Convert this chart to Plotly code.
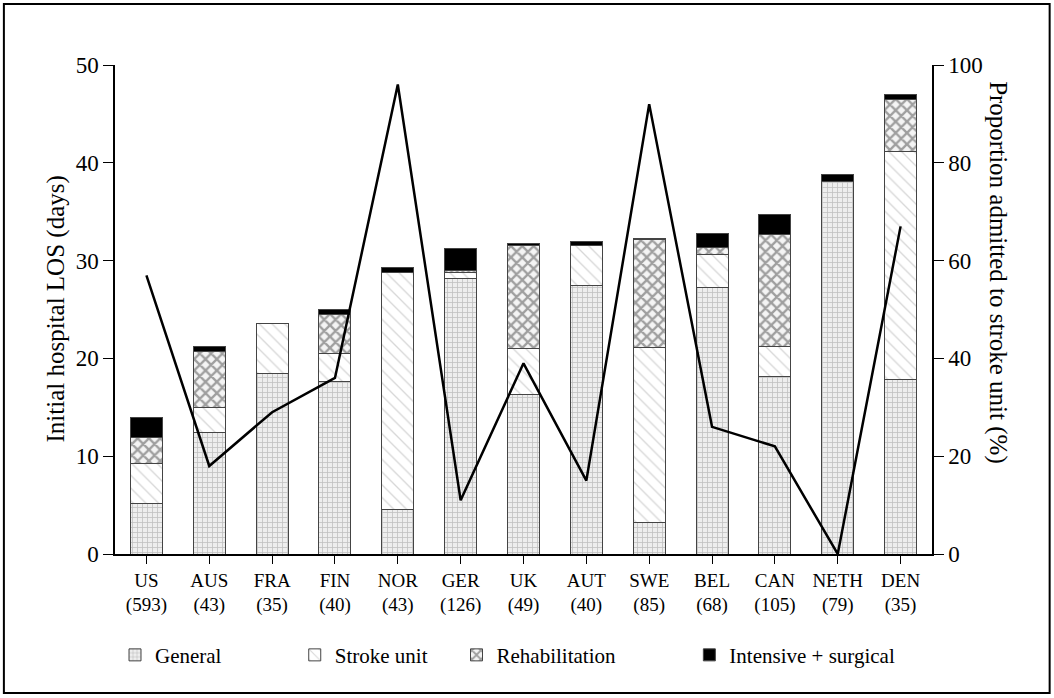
import plotly.graph_objects as go

# Countries and number of patients per country
countries = ["US", "AUS", "FRA", "FIN", "NOR", "GER", "UK", "AUT", "SWE", "BEL", "CAN", "NETH", "DEN"]
patients = [593, 43, 35, 40, 43, 126, 49, 40, 85, 68, 105, 79, 35]

# Initial hospital length of stay (days), split by ward type
general = [5.2, 12.4, 18.5, 17.6, 4.6, 28.2, 16.3, 27.5, 3.2, 27.3, 18.1, 38.1, 17.8]
stroke_unit = [4.1, 2.6, 5.1, 2.9, 24.2, 0.6, 4.7, 4.0, 17.9, 3.3, 3.1, None, 23.4]
rehabilitation = [2.6, 5.7, None, 4.0, None, 0.2, 10.5, None, 11.1, 0.7, 11.5, None, 5.3]
intensive_surgical = [2.1, 0.5, None, 0.5, 0.5, 2.2, 0.2, 0.5, 0.1, 1.5, 2.0, 0.7, 0.5]

# Proportion admitted to stroke unit (%)
stroke_unit_pct = [57, 18, 29, 36, 96, 11, 39, 15, 92, 26, 22, 0, 67]

tick_text = [f"{c}<br>({n})" for c, n in zip(countries, patients)]

FONT = "Liberation Serif, Times New Roman, serif"
OUTLINE = dict(color="#444444", width=1)

fig = go.Figure()

segments = [
    ("General", general, dict(shape="+", size=5, fgcolor="#8f8f8f", bgcolor="#eeeeee", solidity=0.28), "legend"),
    ("Stroke unit", stroke_unit, dict(shape="\\", size=9, fgcolor="#b0b0b0", bgcolor="white", solidity=0.15), "legend2"),
    ("Rehabilitation", rehabilitation, dict(shape="x", size=8, fgcolor="#4a4a4a", bgcolor="#f4f4f4", solidity=0.5), "legend3"),
    ("Intensive + surgical", intensive_surgical, None, "legend4"),
]

for name, vals, pattern, leg in segments:
    marker = dict(color="black" if pattern is None else "white", line=OUTLINE)
    if pattern is not None:
        marker["pattern"] = pattern
    fig.add_trace(go.Bar(
        x=countries, y=vals, name=name, marker=marker,
        legend=leg, yaxis="y",
    ))

fig.add_trace(go.Scatter(
    x=countries, y=stroke_unit_pct, mode="lines",
    line=dict(color="black", width=2.5), yaxis="y2", showlegend=False,
))

legend_common = dict(
    orientation="h", yanchor="middle", y=-0.207, xanchor="left",
    font=dict(family=FONT, size=21, color="black"), bgcolor="rgba(0,0,0,0)",
)

fig.update_layout(
    width=1054, height=698,
    margin=dict(l=115, r=122, t=65, b=144),
    paper_bgcolor="white", plot_bgcolor="white",
    barmode="stack", bargap=0.49,
    font=dict(family=FONT, color="black"),
    xaxis=dict(
        type="category", tickmode="array", tickvals=countries, ticktext=tick_text,
        tickfont=dict(family=FONT, size=19, color="black"),
        ticks="outside", ticklen=8, tickcolor="black",
        showline=True, linecolor="black", linewidth=1.5,
        showgrid=False, range=[-0.5, 12.5],
    ),
    yaxis=dict(
        range=[0, 50], tickvals=[0, 10, 20, 30, 40, 50],
        tickfont=dict(family=FONT, size=23, color="black"),
        ticks="outside", ticklen=10, tickcolor="black",
        showline=True, linecolor="black", linewidth=1.5,
        showgrid=False, zeroline=False,
    ),
    yaxis2=dict(
        overlaying="y", side="right", range=[0, 100],
        tickvals=[0, 20, 40, 60, 80, 100],
        tickfont=dict(family=FONT, size=23, color="black"),
        ticks="outside", ticklen=10, tickcolor="black",
        showline=True, linecolor="black", linewidth=1.5,
        showgrid=False, zeroline=False,
    ),
    legend=dict(legend_common, x=0.0),
    legend2=dict(legend_common, x=0.22),
    legend3=dict(legend_common, x=0.418),
    legend4=dict(legend_common, x=0.703),
    annotations=[
        dict(text="Initial hospital LOS (days)", textangle=-90, x=-0.093, y=0.5,
             xref="paper", yref="paper", showarrow=False,
             font=dict(family=FONT, size=25, color="black")),
        dict(text="Proportion admitted to stroke unit (%)", textangle=90, x=1.1, y=0.575,
             xref="paper", yref="paper", showarrow=False,
             font=dict(family=FONT, size=25, color="black")),
    ],
    shapes=[
        dict(type="rect", xref="paper", yref="paper",
             x0=-0.136, x1=1.144, y0=-0.284, y1=1.125,
             line=dict(color="black", width=2)),
    ],
)

fig.write_html("out.html")
